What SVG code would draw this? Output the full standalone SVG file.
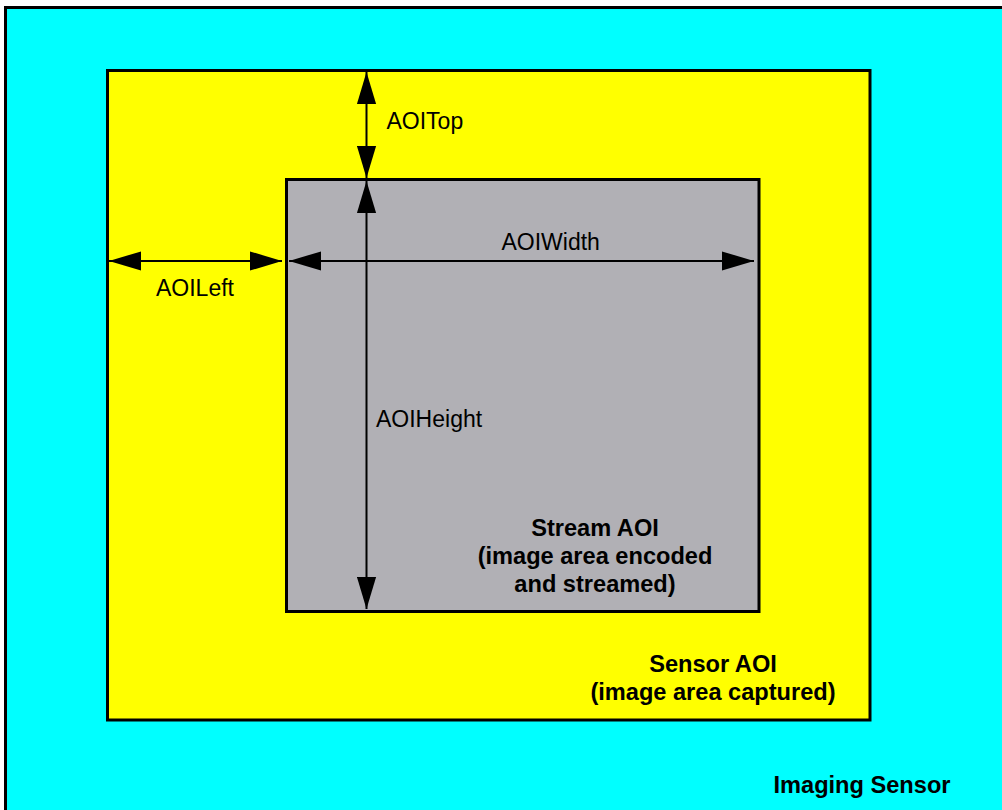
<svg xmlns="http://www.w3.org/2000/svg" width="1002" height="810" viewBox="0 0 1002 810">
<style>
.box{stroke:#000;stroke-width:3}
.dim{stroke:#000;stroke-width:2;fill:none;marker-start:url(#ah);marker-end:url(#ah)}
.lbl{font-family:"Liberation Sans",Arial,sans-serif;font-size:23px;fill:#000}
.bold{font-family:"Liberation Sans",Arial,sans-serif;font-size:23.6px;font-weight:bold;fill:#000;text-anchor:middle}
</style>
<defs>
<marker id="ah" markerUnits="userSpaceOnUse" markerWidth="32" markerHeight="20" viewBox="0 0 30 18" refX="30" refY="9" orient="auto-start-reverse">
<path d="M0,0 L30,9 L0,18 Z" fill="#000"/>
</marker>
</defs>
<rect width="1002" height="810" fill="#fff"/>
<g id="imaging-sensor">
<rect class="box" x="5.5" y="7.5" width="1010" height="820" fill="#00FFFF"/>
<text class="bold" x="862" y="793">Imaging Sensor</text>
</g>
<g id="sensor-aoi">
<rect class="box" x="107.5" y="70.5" width="762.5" height="649.5" fill="#FFFF00"/>
<text class="bold" x="713" y="672">Sensor AOI</text>
<text class="bold" x="713" y="699.5">(image area captured)</text>
</g>
<g id="stream-aoi">
<rect class="box" x="286.5" y="179.5" width="472.5" height="432" fill="#B1B0B5"/>
<text class="bold" x="595" y="536">Stream AOI</text>
<text class="bold" x="595" y="564">(image area encoded</text>
<text class="bold" x="595" y="592">and streamed)</text>
</g>
<g id="connectors">
<line class="dim" x1="366.5" y1="72" x2="366.5" y2="178"/>
<line class="dim" x1="366.5" y1="181" x2="366.5" y2="609"/>
<line class="dim" x1="109" y1="261" x2="282" y2="261"/>
<line class="dim" x1="289" y1="261" x2="754" y2="261"/>
<text class="lbl" x="386.5" y="128.5">AOITop</text>
<text class="lbl" x="156" y="296">AOILeft</text>
<text class="lbl" x="501.5" y="250">AOIWidth</text>
<text class="lbl" x="376" y="427">AOIHeight</text>
</g>
</svg>
